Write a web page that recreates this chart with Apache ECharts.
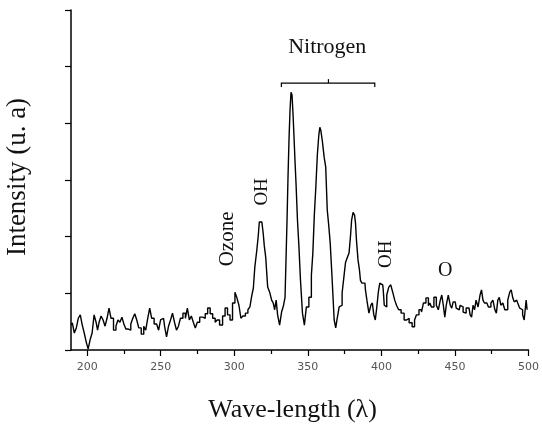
<!DOCTYPE html>
<html><head><meta charset="utf-8">
<script src="https://cdn.jsdelivr.net/npm/echarts@6/dist/echarts.min.js"></script>
<style>html,body{margin:0;padding:0;background:#fff}#c{width:542px;height:427px}</style>
</head><body><div id="c"></div>
<script>
const wavelength = [
189.2,190.6,191.9,193.3,194.6,196.0,197.3,198.7,200.0,201.3,202.7,204.0,205.4,206.7,207.4,208.8,210.1,211.5,212.8,214.2,215.5,216.9,
218.9,220.2,221.6,222.9,224.3,225.6,227.0,229.0,230.3,231.7,233.0,234.4,235.7,237.8,239.1,240.5,241.8,243.2,244.5,246.5,247.9,249.2,250.6,251.9,253.3,254.6,256.0,257.3,258.7,260.0,261.4,262.7,264.1,266.1,267.4,268.8,
270.1,271.5,272.8,274.2,275.5,277.5,279.6,280.9,282.9,284.3,286.3,287.7,289.0,291.0,293.1,294.4,296.4,297.8,299.8,301.1,302.5,303.8,305.2,306.5,308.6,309.9,311.3,312.6,313.3,314.6,316.0,316.7,317.3,318.7,319.3,320.0,320.7,322.0,323.4,324.7,326.1,326.8,328.1,328.8,330.1,331.5,332.8,334.2,334.8,
335.5,336.2,336.9,337.6,338.2,338.9,339.6,340.3,340.9,341.6,342.3,343.6,344.3,345.7,347.0,348.3,349.7,351.7,353.1,353.7,355.1,355.8,357.1,357.8,358.5,359.1,360.5,361.8,362.5,363.9,364.5,365.9,367.2,368.6,369.3,
370.6,372.0,372.6,374.0,375.3,376.0,377.3,378.7,379.4,380.1,381.4,382.1,382.7,383.4,384.8,385.4,386.1,387.5,388.8,389.5,390.8,392.2,393.5,394.2,395.5,396.2,397.6,398.2,399.6,400.9,401.6,402.3,403.0,
404.3,405.7,407.0,408.4,409.7,411.1,412.4,414.4,416.5,417.8,419.9,421.9,423.2,424.5,426.6,427.9,429.3,431.3,432.6,433.3,434.7,436.7,438.0,439.4,440.7,441.4,442.8,443.4,444.8,446.1,447.5,448.1,449.5,450.2,451.5,452.9,454.2,454.9,456.2,456.9,458.3,459.6,461.0,461.6,463.0,463.7,465.0,466.4,467.7,468.4,469.7,470.4,471.7,473.8,475.1,476.5,477.8,478.5,479.8,480.5,481.9,483.2,484.6,485.2,486.6,487.9,488.6,490.0,490.6,492.0,493.3,494.7,495.3,496.7,497.4,498.1,498.7,499.4
];
const intensity = [
44,48,30,39,56,62,44,30,14,2,18,30,62,49,35,49,60,53,42,56,74,56,
35,42,53,49,58,46,37,35,46,56,64,53,39,28,42,35,56,74,56,46,49,35,53,56,42,23,42,53,65,49,35,42,56,65,56,74,
53,60,49,39,49,58,56,64,74,64,56,49,53,44,60,74,62,53,83,102,92,79,56,60,65,71,76,97,109,146,176,203,226,226,220,206,185,164,111,102,88,83,71,88,62,44,67,79,93,
159,229,309,376,423,455,450,415,376,335,295,229,182,123,65,44,76,93,132,171,238,288,344,379,393,388,370,339,323,247,220,189,123,53,39,
56,76,79,101,132,155,162,171,203,229,243,238,224,194,159,141,123,118,118,106,88,65,79,83,62,53,76,102,118,115,106,79,76,
97,111,115,102,88,78,71,65,53,56,48,41,53,62,71,67,83,92,78,83,76,93,79,71,88,97,79,58,79,97,79,74,85,85,74,71,79,76,67,65,74,74,62,58,79,71,88,76,97,106,88,83,83,76,83,88,71,65,88,93,79,83,71,71,88,102,106,92,85,88,83,74,71,62,53,56,88,71
];
const majorTicks = [200,250,300,350,400,450,500];
const minorTicks = [225,275,325,375,425,475];
const annotations = [
  {text:'Nitrogen', x:363.2, y:535, size:22, rotate:0},
  {text:'Ozone', x:295.1, y:196, size:21, rotate:90},
  {text:'OH', x:318.7, y:279, size:19, rotate:90},
  {text:'OH', x:403.0, y:169, size:19, rotate:90},
  {text:'O', x:443.4, y:139, size:20, rotate:0}
];
const bracket = {from:332, to:395.5, mid:364, y:471, endY:464, midY:478};

const serif = '"Liberation Serif","DejaVu Serif",serif';
const chart = echarts.init(document.getElementById('c'), null, {renderer:'canvas'});
const data = wavelength.map((w,i)=>[w,intensity[i]]);
chart.setOption({
  animation:false,
  backgroundColor:'#fff',
  grid:{left:71,right:10,top:10,bottom:77},
  xAxis:[{
    type:'value', min:189, max:500,
    axisLine:{lineStyle:{color:'#000',width:1.5}},
    axisTick:{customValues:majorTicks,length:6,lineStyle:{color:'#000',width:1.2}},
    axisLabel:{customValues:majorTicks,color:'#555',fontSize:11,fontFamily:'DejaVu Sans',margin:12},
    splitLine:{show:false}
  },{
    type:'value', min:189, max:500, position:'bottom',
    axisLine:{show:false},
    axisTick:{customValues:minorTicks,length:4,lineStyle:{color:'#000',width:1.2}},
    axisLabel:{show:false},
    splitLine:{show:false}
  }],
  yAxis:{
    type:'value', min:0, max:600, interval:100,
    axisLine:{show:true,lineStyle:{color:'#000',width:1.5}},
    axisTick:{show:true,length:6,lineStyle:{color:'#000',width:1.2}},
    axisLabel:{show:false},
    splitLine:{show:false}
  },
  series:[{
    type:'line', data:data, showSymbol:false, step:'middle',
    lineStyle:{color:'#000',width:1.4}
  }]
});

function px(x,y){ return chart.convertToPixel({xAxisIndex:0,yAxisIndex:0},[x,y]); }
const g = [];
annotations.forEach(a=>{
  const p = px(a.x,a.y);
  g.push({type:'text', x:p[0], y:p[1], rotation:a.rotate*Math.PI/180,
    style:{text:a.text, align:'center', verticalAlign:'middle', font:a.size+'px '+serif, fill:'#111'}});
});
const b1 = px(bracket.from,bracket.endY), b2 = px(bracket.from,bracket.y),
      b3 = px(bracket.to,bracket.y), b4 = px(bracket.to,bracket.endY),
      m1 = px(bracket.mid,bracket.y), m2 = px(bracket.mid,bracket.midY);
g.push({type:'polyline', shape:{points:[b1,b2,b3,b4]}, style:{stroke:'#000',lineWidth:1.2,fill:null}});
g.push({type:'polyline', shape:{points:[m1,m2]}, style:{stroke:'#000',lineWidth:1.2,fill:null}});
g.push({type:'text', x:292.5, y:410, style:{text:'Wave-length (λ)', align:'center', verticalAlign:'middle', font:'26px '+serif, fill:'#111'}});
g.push({type:'text', x:18, y:177, rotation:Math.PI/2, style:{text:'Intensity (u. a)', align:'center', verticalAlign:'middle', font:'27px '+serif, fill:'#111'}});
chart.setOption({graphic:g});
</script></body></html>
